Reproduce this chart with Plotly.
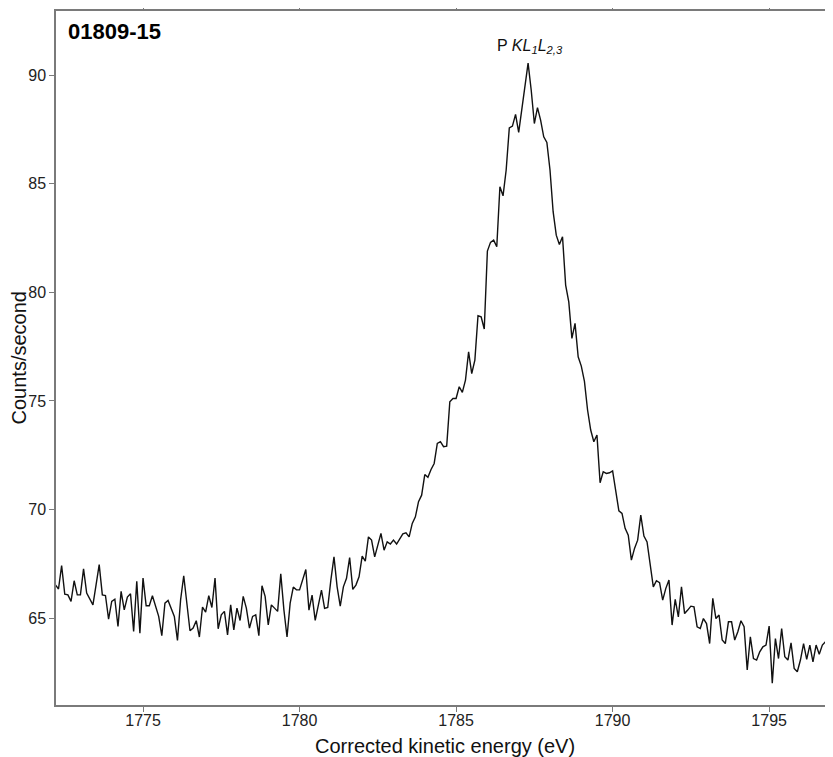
import plotly.graph_objects as go

# Energy grid: 1772.2 .. 1797.0 eV in 0.1 eV steps
e_start = 1772.2
e_step = 0.1

counts = [
    # 1772.2 - 1780.0
    66.53, 66.34, 67.42, 66.10, 66.07, 65.77, 66.72, 66.07, 66.07, 67.27,
    66.15, 65.84, 65.61, 66.53, 67.46, 66.07, 66.04, 64.95, 65.77, 65.87,
    64.62, 66.23, 65.38, 65.97, 66.12, 64.39, 66.69, 64.31, 66.84, 65.57,
    65.57, 66.03, 65.54, 65.08, 64.19, 65.69, 65.81, 65.46, 65.08, 63.97,
    65.84, 66.95, 65.54, 64.42, 64.54, 64.88, 64.13, 65.51, 65.28, 66.03,
    65.49, 66.84, 64.51, 65.15, 65.31, 64.23, 65.61, 64.46, 65.46, 64.89,
    66.00, 65.46, 64.54, 65.08, 65.15, 64.19, 66.49, 66.00, 64.69, 65.61,
    65.46, 65.31, 67.04, 65.38, 64.13, 65.69, 66.43, 66.30, 66.30,
    # 1780.1 - 1783.5
    66.83, 67.24, 65.37, 66.06, 64.90, 65.55, 66.29, 65.45, 65.49, 66.75,
    67.82, 66.44, 65.55, 66.44, 66.83, 67.79, 66.32, 66.52, 66.90, 67.85,
    67.62, 68.74, 68.59, 67.82, 68.35, 68.90, 68.13, 68.51, 68.41, 68.59,
    68.41, 68.63, 68.88, 68.93, 68.74,
    # 1783.6 - 1784.7
    69.36, 69.66, 70.36, 70.66, 71.61, 71.48, 71.84, 72.12, 73.04, 73.12,
    72.89, 72.92,
    # 1784.8 - 1788.9
    74.96, 75.11, 75.11, 75.65, 75.39, 75.96, 77.26, 76.26, 76.88, 78.92,
    78.87, 78.31, 81.90, 82.30, 82.40, 82.10, 84.86, 84.44, 85.63, 87.57,
    87.65, 88.19, 87.36, 88.40, 89.65, 90.55, 89.30, 87.77, 88.50, 87.93,
    87.16, 86.90, 85.63, 83.71, 82.63, 82.20, 82.56, 80.33, 79.56, 77.88,
    78.57, 77.03,
    # 1789.0 - 1792.7
    76.60, 75.90, 74.58, 73.66, 73.12, 73.43, 71.23, 71.74, 71.66, 71.69,
    71.78, 70.89, 69.94, 69.82, 69.13, 68.82, 67.67, 68.21, 68.59, 69.74,
    68.78, 68.51, 67.44, 66.44, 66.72, 66.63, 65.83, 66.37, 66.75, 64.68,
    65.86, 65.06, 66.44, 65.21, 65.37, 65.55, 65.52, 64.60,
    # 1792.8 - 1797.0
    64.52, 64.98, 64.75, 63.83, 65.91, 64.98, 65.14, 63.99, 63.83, 64.83,
    64.83, 63.99, 64.37, 64.88, 64.60, 62.61, 64.14, 63.14, 63.07, 63.45,
    63.68, 63.76, 64.63, 62.00, 64.06, 63.14, 64.52, 63.22, 63.07, 63.86,
    62.68, 62.53, 63.07, 63.83, 63.10, 63.76, 62.99, 63.76, 63.34, 63.76,
    63.91, 62.96, 63.71,
]

energy = [round(e_start + e_step * i, 1) for i in range(len(counts))]

x_ticks = [1775, 1780, 1785, 1790, 1795]
y_ticks = [65, 70, 75, 80, 85, 90]

sample_label = "01809-15"
peak_label = "P <i>KL<sub>1</sub>L<sub>2,3</sub></i>"
peak_pos = (1787.36, 91.3)

FONT = "Arial, Liberation Sans, sans-serif"
AXIS_COLOR = "#7a7a7a"

fig = go.Figure()
fig.add_trace(go.Scatter(
    x=energy, y=counts, mode="lines",
    line=dict(color="#111111", width=1.4),
    showlegend=False, hoverinfo="skip",
))

axis_common = dict(
    showgrid=False, zeroline=False,
    showline=True, linecolor=AXIS_COLOR, linewidth=1.5,
    ticks="outside", ticklen=5, tickwidth=1, tickcolor=AXIS_COLOR,
    tickfont=dict(family=FONT, size=16, color="#222222"),
    automargin=False,
)

fig.update_xaxes(range=[1772.22, 1797.04], tickvals=x_ticks,
                 ticktext=[str(t) for t in x_ticks], ticklabelstandoff=-5,
                 mirror="ticks", **axis_common)
fig.update_yaxes(range=[61.0, 92.95], tickvals=y_ticks,
                 ticktext=[str(t) for t in y_ticks], mirror=False,
                 **axis_common)

fig.add_annotation(text="Corrected kinetic energy (eV)", xref="paper", yref="paper",
                   x=0.5, y=-0.059, xanchor="center", yanchor="middle",
                   showarrow=False, font=dict(family=FONT, size=20, color="#111111"))
fig.add_annotation(text="Counts/second", xref="paper", yref="paper",
                   x=-0.047, y=0.5, xanchor="center", yanchor="middle",
                   textangle=-90, showarrow=False,
                   font=dict(family=FONT, size=20, color="#111111"))
fig.add_annotation(text="<b>" + sample_label + "</b>", xref="paper", yref="paper",
                   x=0.0125, y=0.97, xanchor="left", yanchor="middle",
                   showarrow=False, font=dict(family=FONT, size=22, color="#000000"))
fig.add_annotation(text=peak_label, x=peak_pos[0], y=peak_pos[1],
                   xanchor="center", yanchor="middle", showarrow=False,
                   font=dict(family=FONT, size=16, color="#111111"))

# The page adds an 8 px body margin, so the figure is 8 px smaller than the window
fig.update_layout(
    width=825, height=749,
    margin=dict(l=48, r=0, t=3, b=52),
    paper_bgcolor="white", plot_bgcolor="white",
    template="none",
)

fig.write_html("out.html")
